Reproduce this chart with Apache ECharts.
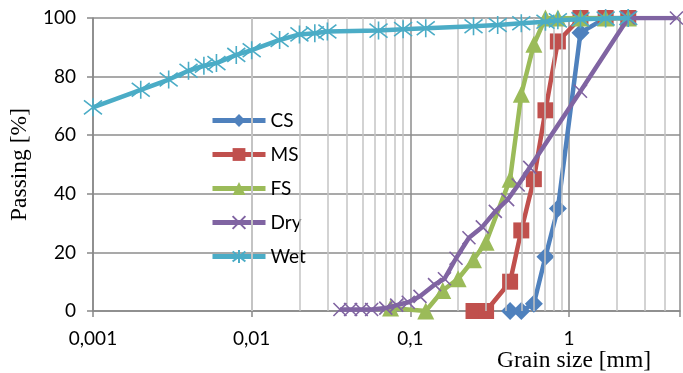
<!DOCTYPE html>
<html><head><meta charset="utf-8">
<script src="https://cdn.jsdelivr.net/npm/echarts@6/dist/echarts.min.js"></script>
<style>html,body{margin:0;padding:0;background:#fff}#c{width:683px;height:373px}</style>
</head><body><div id="c"></div>
<script>
const seriesNames = ['CS', 'MS', 'FS', 'Dry', 'Wet'];
const seriesColors = ['#4F81BD', '#C0504D', '#9BBB59', '#8064A2', '#4BACC6'];
const csData = [[0.425,0],[0.5,0],[0.6,2.5],[0.71,18.5],[0.85,35],[1.18,95],[1.7,100],[2.36,100]];
const msData = [[0.25,0],[0.3,0],[0.425,10],[0.5,27.5],[0.6,45],[0.71,68.5],[0.85,92],[1.18,100],[1.7,100],[2.36,100]];
const fsData = [[0.075,1],[0.125,0],[0.16,7],[0.2,11],[0.25,17.5],[0.3,23.5],[0.425,45],[0.5,74],[0.6,91],[0.71,100],[0.85,100],[1.18,100],[1.7,100],[2.36,100]];
const dryData = [[0.036,0.5],[0.042,0.5],[0.049,0.5],[0.057,0.5],[0.07,1],[0.082,2],[0.097,3],[0.115,5],[0.142,9],[0.164,11],[0.194,18],[0.234,25],[0.284,28.7],[0.343,34],[0.41,38],[0.478,43],[0.565,49],[1.18,75],[2.36,100],[4.75,100]];
const wetData = [[0.001,69.5],[0.002,75.5],[0.003,79],[0.004,82],[0.005,83.7],[0.006,84.6],[0.008,87.4],[0.01,89],[0.015,92.5],[0.02,94.4],[0.025,94.8],[0.03,95.4],[0.063,95.7],[0.09,96.2],[0.125,96.5],[0.25,97.2],[0.355,97.6],[0.5,98.2],[0.71,98.7],[0.85,99.2],[1.18,99.6],[1.7,99.8],[2.36,100]];
const minorGridX = [0.002,0.003,0.004,0.005,0.006,0.007,0.008,0.009,
  0.02,0.03,0.04,0.05,0.06,0.07,0.08,0.09,
  0.2,0.3,0.4,0.5,0.6,0.7,0.8,0.9,
  2,3,4];
const xMin = 0.001, xMax = 5;
const yTicks = [0, 20, 40, 60, 80, 100];

const crossPath = 'path://M0,0L10,10M10,0L0,10';
const starPath = 'path://M0,0L10,10M10,0L0,10M5,-1.5L5,11.5';
const symbols = [
  {symbol:'diamond', size:18},
  {symbol:'rect', size:16},
  {symbol:'triangle', size:17},
  {symbol:crossPath, size:13},
  {symbol:starPath, size:18}
];
const datasets = [csData, msData, fsData, dryData, wetData];

const chart = echarts.init(document.getElementById('c'), null, {renderer:'canvas'});
const series = [{
  type:'line', data:[], silent:true, z:1, animation:false,
  markLine:{
    silent:true, animation:false, symbol:['none','none'],
    label:{show:false}, emphasis:{disabled:true},
    lineStyle:{color:'#c4c4c4', width:1.5, type:'solid'},
    data: minorGridX.map(v => ({xAxis:v}))
  }
}];
seriesNames.forEach((n, i) => {
  const isLineSym = i >= 3;
  series.push({
    name:n, type:'line', data:datasets[i], z:3 + i,
    symbol:symbols[i].symbol, symbolSize:symbols[i].size, showAllSymbol:true,
    lineStyle:{width:4.5, color:seriesColors[i]},
    itemStyle: isLineSym ? {color:seriesColors[i], borderColor:seriesColors[i], borderWidth:1.6}
                         : {color:seriesColors[i], borderWidth:0},
    emphasis:{disabled:true}, animation:false
  });
});

chart.setOption({
  backgroundColor:'#fff',
  animation:false,
  grid:{left:86, right:0, top:18, bottom:62, containLabel:false},
  legend:{
    data:seriesNames, orient:'vertical', left:205, top:106,
    itemWidth:53, itemHeight:16, itemGap:15,
    lineStyle:{width:5},
    textStyle:{fontFamily:'Lato', fontSize:19, color:'#000', padding:[0,0,0,0]},
    selectedMode:false
  },
  xAxis:{
    type:'log', logBase:10, min:xMin, max:xMax,
    axisLine:{show:true, lineStyle:{color:'#888', width:1.5}},
    axisTick:{show:true, length:6, lineStyle:{color:'#888', width:1.5}},
    axisLabel:{
      margin:18, fontFamily:'Lato', fontSize:19, color:'#000',
      formatter: v => {
        const l = Math.log10(v);
        if (Math.abs(l - Math.round(l)) > 1e-6) return '';
        return String(+v.toPrecision(3)).replace('.', ',');
      }
    },
    splitLine:{show:true, lineStyle:{color:'#8c8c8c', width:1.5}},
    minorTick:{show:false}, minorSplitLine:{show:false}
  },
  yAxis:{
    type:'value', min:yTicks[0], max:yTicks[yTicks.length-1], interval:20,
    name:'Passing [%]', nameLocation:'middle', nameGap:52, nameRotate:90,
    nameTextStyle:{fontFamily:'Liberation Serif', fontSize:23.5, color:'#000'},
    axisLine:{show:true, lineStyle:{color:'#888', width:1.5}},
    axisTick:{show:true, length:6, lineStyle:{color:'#888', width:1.5}},
    axisLabel:{margin:17, fontFamily:'Lato', fontSize:19, color:'#000'},
    splitLine:{show:true, lineStyle:{color:'#8c8c8c', width:1.5}}
  },
  graphic:[{
    type:'text', left:497, top:349, silent:true,
    style:{text:'Grain size [mm]', fontFamily:'Liberation Serif', fontSize:23.5, fill:'#000'}
  }],
  series: series
});
</script>
</body></html>
